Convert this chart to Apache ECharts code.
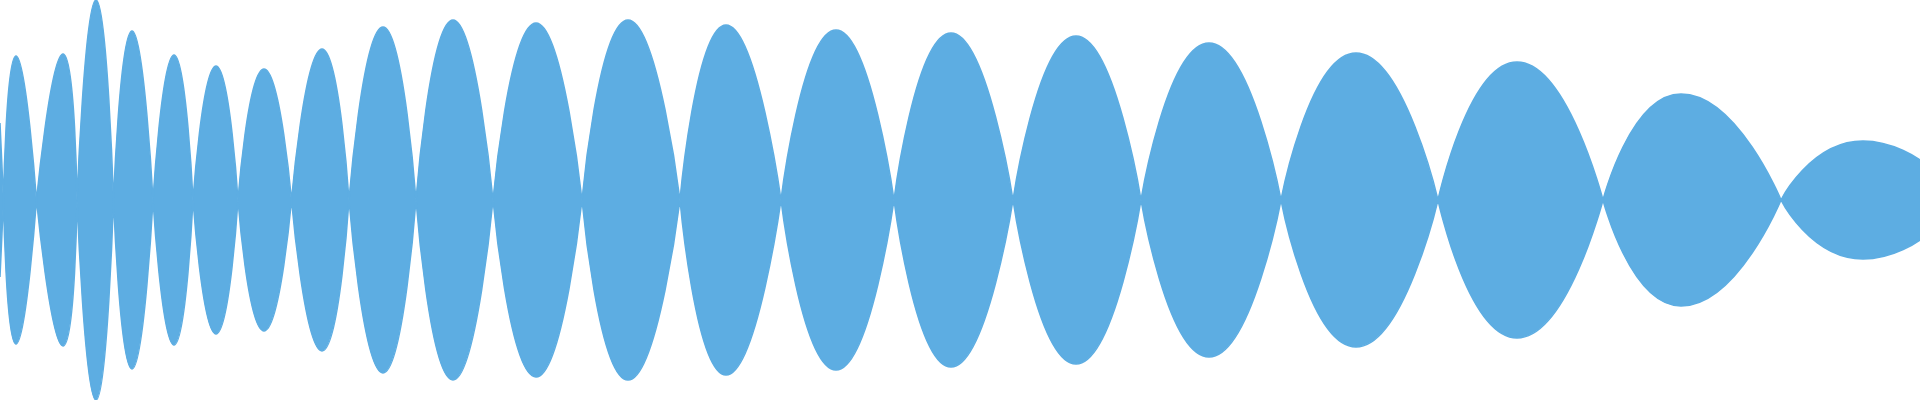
<!DOCTYPE html>
<html>
<head>
<meta charset="utf-8">
<style>
  html, body { margin: 0; padding: 0; background: #ffffff; }
  #chart { width: 1920px; height: 400px; }
</style>
<script src="https://cdn.jsdelivr.net/npm/echarts@6/dist/echarts.min.js"></script>
</head>
<body>
<div id="chart"></div>
<script>
// Time axis (sample units) and normalized amplitude envelope
const startAmp = 0.385;            // amplitude at the left edge (t = 0)
const endT = 1920;                 // right edge of the signal
const endAmp = 0.20;               // amplitude at the right edge
const crossings = [3.5, 36.5, 77, 113.5, 153, 193, 238, 291.5, 349, 416, 493, 582, 680, 781, 894, 1013, 1141, 1281, 1438, 1603, 1781];
const peakT = [16, 63, 96, 132, 174, 216, 264, 322, 383, 453, 536, 628, 726, 836, 951, 1076, 1209, 1356, 1517, 1681, 1863];
const peakAmp = [0.72, 0.73, 1.0, 0.845, 0.725, 0.67, 0.655, 0.755, 0.865, 0.90, 0.885, 0.90, 0.875, 0.85, 0.835, 0.82, 0.785, 0.735, 0.69, 0.53, 0.295];

function buildEnvelope(sign) {
  const out = [];
  out.push([0, sign * startAmp]);
  out.push([crossings[0], 0]);
  out.push([crossings[0], '-']);
  for (let k = 0; k < peakT.length; k++) {
    const a = crossings[k];
    const last = k === peakT.length - 1;
    out.push([a, 0]);
    out.push([peakT[k], sign * peakAmp[k]]);
    if (last) {
      out.push([endT, sign * endAmp]);
    } else {
      out.push([crossings[k + 1], 0]);
      out.push([crossings[k + 1], '-']);
    }
  }
  return out;
}

const color = '#5DADE2';
const chart = echarts.init(document.getElementById('chart'), null, { renderer: 'canvas' });
const mk = (sign) => ({
  type: 'line',
  data: buildEnvelope(sign),
  smooth: 0.6,
  symbol: 'none',
  connectNulls: false,
  lineStyle: { color: color, width: 1.5 },
  areaStyle: { color: color, opacity: 1, origin: 0 },
  itemStyle: { color: color },
  emphasis: { disabled: true },
  silent: true
});
chart.setOption({
  animation: false,
  grid: { left: 0, right: 0, top: 0, bottom: 0 },
  xAxis: { type: 'value', min: 0, max: 1920, show: false },
  yAxis: { type: 'value', min: -1, max: 1, show: false },
  series: [mk(1), mk(-1)]
});
</script>
</body>
</html>
